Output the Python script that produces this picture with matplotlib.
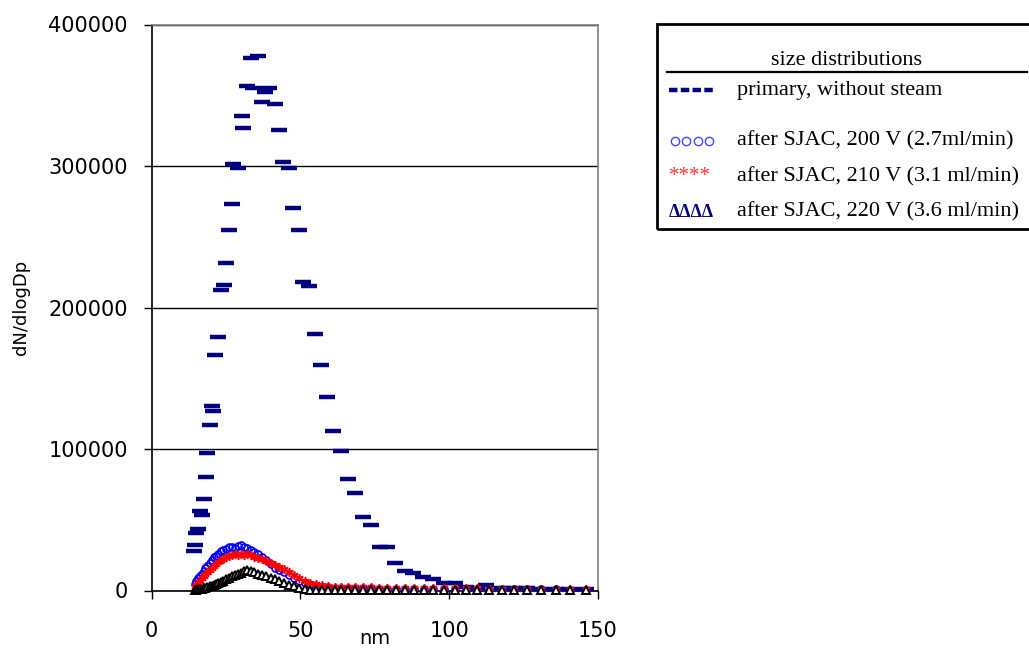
import matplotlib
matplotlib.use('Agg')
import matplotlib.pyplot as plt
from matplotlib.lines import Line2D
from matplotlib.patches import Rectangle

# ---------------- data ----------------
x_ticks = [0, 50, 100, 150]
y_ticks = [0, 100000, 200000, 300000, 400000]
y_tick_labels = ["0", "100000", "200000", "300000", "400000"]

# primary, without steam (nm, dN/dlogDp)
prim_x = [14.2, 14.7, 15.0, 15.5, 16.4, 16.8, 17.5, 18.2, 18.8, 19.5,
          20.2, 20.8, 21.5, 22.2, 23.5, 24.2, 24.9, 26.2, 26.9, 27.5,
          28.9, 30.3, 30.9, 32.2, 33.4, 34.2, 35.7, 37.0, 38.2, 39.5,
          41.6, 42.9, 44.2, 46.3, 47.6, 49.6, 50.9, 52.9, 54.9, 57.0,
          59.0, 61.0, 63.8, 66.1, 68.5, 71.1, 73.8, 76.8, 79.0, 81.8,
          85.2, 87.9, 91.2, 94.5, 98.1, 102.0, 105.5, 109.4, 112.5, 117.6,
          121.9, 126.3, 131.0, 135.8, 140.7, 145.9]
prim_y = [28100, 32400, 40800, 43700, 56400, 53600, 64900, 80400, 97400, 117200,
          130200, 127100, 166600, 179400, 212200, 216100, 231800, 254600, 272900, 301200,
          298400, 335100, 326600, 356500, 376100, 354900, 377700, 345000, 352100, 354900,
          343600, 325200, 302600, 298400, 270100, 254600, 217800, 215000, 181100, 159600,
          137000, 113000, 98800, 79000, 69100, 52200, 46500, 31000, 31000, 19600,
          14000, 12700, 9800, 8300, 5500, 5500, 2500, 2000, 4100, 1800,
          1500, 1500, 1200, 1200, 1000, 1000]

# SMPS channels for the SJAC measurements (nm)
ch_x = [14.6, 15.1, 15.7, 16.3, 16.8, 17.5, 18.1, 18.8, 19.5, 20.2,
        20.9, 21.7, 22.5, 23.3, 24.1, 25.0, 25.9, 26.9, 27.9, 28.9,
        30.0, 31.1, 32.2, 33.4, 34.6, 35.9, 37.2, 38.5, 40.0, 41.4,
        42.9, 44.5, 46.1, 47.8, 49.6, 51.4, 53.3, 55.2, 57.3, 59.4,
        61.5, 63.8, 66.1, 68.5, 71.0, 73.7, 76.4, 79.1, 82.0, 85.1,
        88.2, 91.4, 94.7, 98.2, 101.8, 105.5, 109.4, 113.4, 117.6, 121.9,
        126.3, 131.0, 135.8, 140.7, 145.9]

sjac200 = [4500, 7000, 9000, 10500, 12000, 14000, 16000, 17500, 19500, 21500,
           23500, 24500, 26000, 28000, 28500, 29500, 30500, 31000, 30000, 31500,
           32500, 31000, 30000, 28500, 27000, 25500, 24000, 21500, 19000, 16000,
           14500, 13000, 11000, 9000, 7000, 5000, 3800, 3000, 2500, 2200,
           2000, 1800, 1700, 1600, 1500, 1500, 1400, 1400, 1300, 1300,
           1200, 1200, 1100, 1100, 1000, 1000, 1000, 900, 900, 900,
           800, 800, 800, 700, 700]

sjac210 = [2500, 4000, 5500, 7000, 8500, 10000, 11500, 13000, 14500, 16000,
           17500, 19000, 20000, 21500, 22500, 23500, 24500, 25000, 25500, 25000,
           26000, 25000, 25500, 25000, 24000, 23000, 22000, 21000, 19500, 18000,
           16500, 15000, 13000, 11000, 9000, 7000, 5500, 4500, 3800, 3200,
           2800, 2600, 2500, 2400, 2300, 2200, 2100, 2000, 2000, 1900,
           1800, 1800, 1700, 1600, 1600, 1500, 1500, 1400, 1400, 1300,
           1300, 1200, 1200, 1100, 1100]

sjac220 = [300, 500, 800, 1000, 1300, 1600, 2000, 2500, 3000, 3500,
           4000, 4800, 5500, 6200, 7000, 8000, 9000, 10000, 11000, 11500,
           12500, 13500, 14500, 13800, 12800, 12000, 11000, 10000, 9000, 8000,
           7000, 5500, 4000, 3000, 2000, 1000, 500, 300, 300, 300,
           300, 300, 300, 300, 300, 300, 300, 300, 300, 300,
           300, 300, 300, 300, 300, 300, 300, 300, 300, 300,
           300, 300, 300, 300, 300]

legend_title = "size distributions"
legend_labels = ["primary, without steam",
                 "after SJAC, 200 V (2.7ml/min)",
                 "after SJAC, 210 V (3.1 ml/min)",
                 "after SJAC, 220 V (3.6 ml/min)"]

# ---------------- figure ----------------
W, H = 1029, 648
fig = plt.figure(figsize=(W / 100, H / 100), dpi=100)
fig.patch.set_facecolor('white')

def fx(px):
    return px / W

def fy(py):
    return 1 - py / H

ax = fig.add_axes([fx(151.5), fy(590.5), (598 - 151.5) / W, (590.5 - 24.5) / H])
ax.set_xlim(0, 150)
ax.set_ylim(0, 400000)
ax.set_xticks(x_ticks)
ax.set_yticks(y_ticks)
ax.set_yticklabels(y_tick_labels)
ax.yaxis.grid(True, color='black', linewidth=1.0)
ax.set_axisbelow(True)

for s in ('top', 'right'):
    ax.spines[s].set_color('#808080')
    ax.spines[s].set_linewidth(1.2)
for s in ('left', 'bottom'):
    ax.spines[s].set_color('black')
    ax.spines[s].set_linewidth(1.2)

ax.tick_params(axis='both', direction='out', length=6, width=1, color='black',
               labelsize=15)
ax.tick_params(axis='y', pad=11)
ax.tick_params(axis='x', pad=16)
for lab in ax.get_xticklabels() + ax.get_yticklabels():
    lab.set_family('DejaVu Sans')

ax.set_ylabel('dN/dlogDp', fontsize=13, family='DejaVu Sans', va='center')
ax.yaxis.set_label_coords((21 - 151.5) / 446.5, 0.5)
ax.set_xlabel('nm', fontsize=14, family='DejaVu Sans', va='top')
ax.xaxis.set_label_coords(0.5, -(629 - 590.5) / 566)

# series
ax.plot(prim_x, prim_y, ls='none', marker='_', ms=11, mew=3.2,
        color='#000080', clip_on=False, zorder=3)
ax.plot(ch_x, sjac200, ls='none', marker='o', ms=5.0, mfc='none',
        mec='#0000FF', mew=1.2, clip_on=False, zorder=4)
ax.plot(ch_x, sjac210, ls='none', marker=(6, 2, 0), ms=6.0,
        color='#FF0000', mew=1.2, clip_on=False, zorder=5)
ax.plot(ch_x, sjac220, ls='none', marker='^', ms=6.3, mfc='white',
        mec='black', mew=1.4, clip_on=False, zorder=6)

# ---------------- legend box (manual, Excel style) ----------------
fig.patches.append(Rectangle((fx(656.7), fy(229.3)), (1040 - 656.7) / W,
                             (229.3 - 24.3) / H, transform=fig.transFigure,
                             fill=False, edgecolor='black', linewidth=2.0))
fig.text(fx(846.7), fy(65), legend_title, ha='center', va='baseline',
         family='Liberation Serif', fontsize=16)
fig.lines.append(Line2D([fx(666.7), fx(1027)], [fy(71.7), fy(71.7)],
                        transform=fig.transFigure, color='black', linewidth=1.6))

text_x = fx(737.3)
baselines = [95, 145.7, 181, 216.7]
for lab, b in zip(legend_labels, baselines):
    fig.text(text_x, fy(b), lab, ha='left', va='baseline',
             family='Liberation Serif', fontsize=16, color='black')

# legend symbols
fig.lines.append(Line2D([fx(669), fx(713)], [fy(90), fy(90)],
                        transform=fig.transFigure, color='#000080',
                        linewidth=3.2, dashes=(1.9, 0.75), solid_capstyle='butt',
                        dash_capstyle='butt'))
fig.lines.append(Line2D([fx(674.5), fx(686), fx(697.5), fx(709)],
                        [fy(140.7)] * 4, transform=fig.transFigure, ls='none',
                        marker='o', ms=6.0, mfc='none', mec='#4646FF', mew=1.0))
fig.text(fx(669), fy(181), '****', ha='left', va='baseline',
         family='Liberation Serif', fontsize=15, color='#FF3030')
fig.text(fx(669), fy(216.7), 'ΔΔΔΔ', ha='left', va='baseline',
         family='Liberation Serif', fontweight='bold', fontsize=13, color='#000080')

fig.savefig('out.png', dpi=100, facecolor='white')
